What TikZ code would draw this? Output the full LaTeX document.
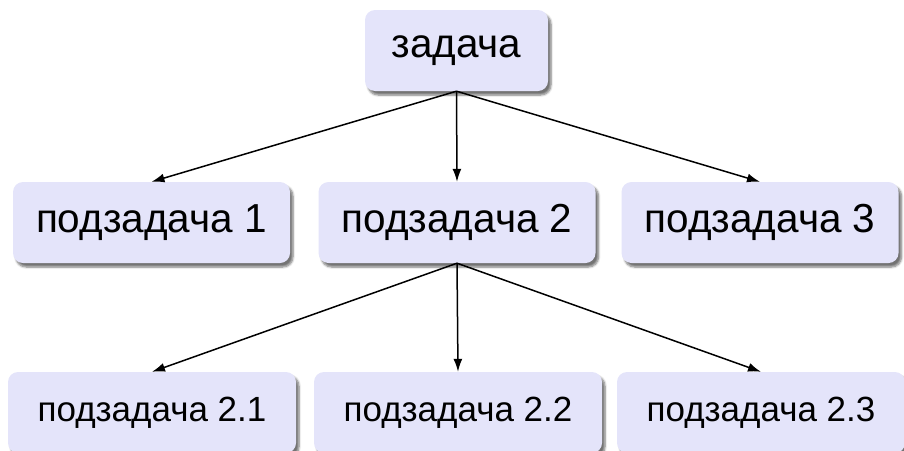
\documentclass[tikz,border=0pt]{standalone}
\usepackage{fontspec}
\setmainfont{Liberation Sans}
\usetikzlibrary{arrows.meta,shadows.blur}
\definecolor{boxfill}{RGB}{228,228,250}
\begin{document}
\begin{tikzpicture}[x=1pt,y=-1pt,
  box/.style={draw=none, fill=boxfill, rounded corners=10pt, minimum height=81pt, inner sep=0pt,
    blur shadow={shadow xshift=3pt, shadow yshift=-4pt, shadow blur steps=6, shadow opacity=55}},
  big/.style={font=\fontsize{40.5}{48}\selectfont},
  small/.style={font=\fontsize{35}{42}\selectfont},
  link/.style={-{Latex[length=13pt,width=9pt]}, line width=1.5pt}]
\useasboundingbox (0,0) rectangle (904,450);
\node[box,big,minimum width=183pt] (t) at (456.5,50.5) {задача};
\node[box,big,minimum width=277pt] (a) at (151.5,222.5) {подзадача 1};
\node[box,big,minimum width=277pt] (b) at (457,222.5) {подзадача 2};
\node[box,big,minimum width=277pt] (c) at (760,222.5) {подзадача 3};
\node[box,small,minimum width=288pt] (d) at (152,412.5) {подзадача 2.1};
\node[box,small,minimum width=288pt] (e) at (458,412.5) {подзадача 2.2};
\node[box,small,minimum width=288pt] (f) at (761,412.5) {подзадача 2.3};
\draw[link] (t.south) -- (a.north);
\draw[link] (t.south) -- (b.north);
\draw[link] (t.south) -- (c.north);
\draw[link] (b.south) -- (d.north);
\draw[link] (b.south) -- (e.north);
\draw[link] (b.south) -- (f.north);
\end{tikzpicture}
\end{document}
